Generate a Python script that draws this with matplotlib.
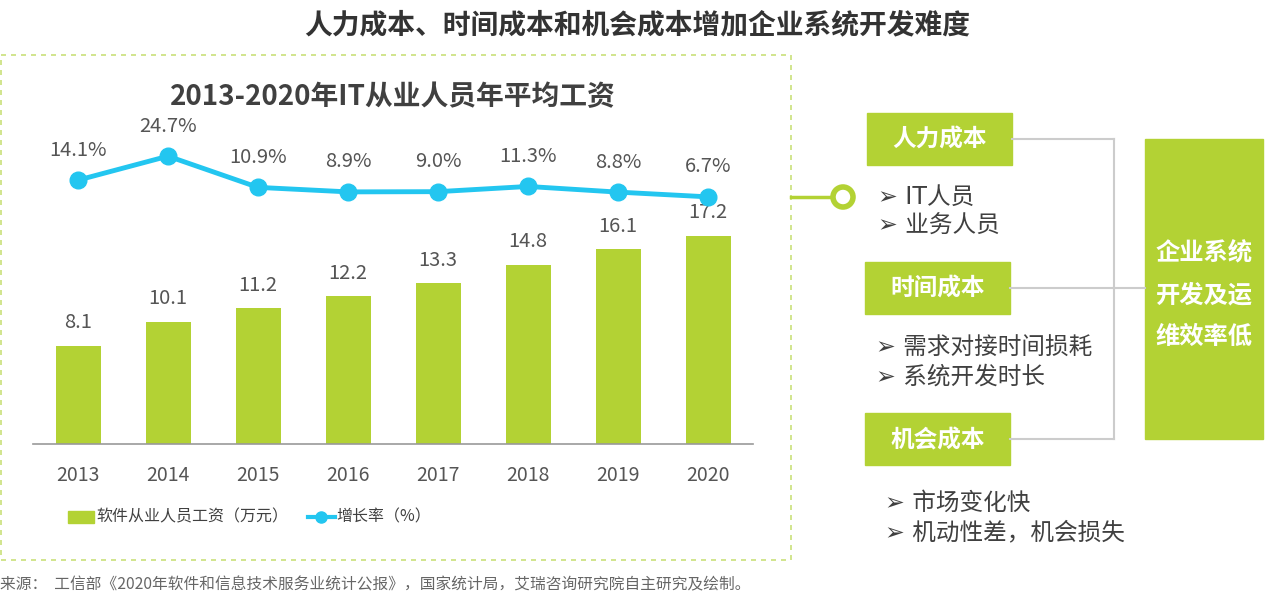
import matplotlib.pyplot as plt
from matplotlib.patches import Rectangle, Circle
from matplotlib.lines import Line2D
import numpy as np

plt.rcParams['font.family'] = ['Noto Sans CJK SC', 'DejaVu Sans']

# data
years = ['2013', '2014', '2015', '2016', '2017', '2018', '2019', '2020']
salary = [8.1, 10.1, 11.2, 12.2, 13.3, 14.8, 16.1, 17.2]
growth = [14.1, 24.7, 10.9, 8.9, 9.0, 11.3, 8.8, 6.7]

costs = ['人力成本', '时间成本', '机会成本']
cost_items = [['IT人员', '业务人员'],
              ['需求对接时间损耗', '系统开发时长'],
              ['市场变化快', '机动性差，机会损失']]
result = '企业系统\n开发及运\n维效率低'

green = '#b3d234'
blue = '#23c6f0'
dark = '#404040'

W, H = 1277, 606
fig = plt.figure(figsize=(W / 100, H / 100), dpi=100)


def fx(px):
    return px / W


def fy(py):
    return 1 - py / H


# overlay axes in pixel coords for the decorations
deco = fig.add_axes([0, 0, 1, 1])
deco.set_xlim(0, W)
deco.set_ylim(H, 0)
deco.axis('off')

# main chart
ax = fig.add_axes([fx(33), fy(444), fx(753) - fx(33), fy(100) - fy(444)])
x = np.arange(len(years))
ax.bar(x, salary, width=0.5, color=green, zorder=2)
ax.set_xlim(-0.5, len(years) - 0.5)
ax.set_ylim(0, 344 / 12.1)
for s in ['top', 'right', 'left']:
    ax.spines[s].set_visible(False)
ax.spines['bottom'].set_color('#999999')
ax.spines['bottom'].set_linewidth(1.2)
ax.set_yticks([])
ax.set_xticks(x)
ax.set_xticklabels(years, fontsize=14, color='#555555')
ax.tick_params(axis='x', length=0, pad=15)
for xi, v in zip(x, salary):
    ax.annotate(f'{v}', (xi, v), xytext=(0, 9), textcoords='offset points',
                ha='center', va='bottom', fontsize=14.5, color='#555555')

ax2 = ax.twinx()
ax2.set_ylim(-232 / 2.26, 112 / 2.26)
ax2.plot(x, growth, color=blue, lw=3.5, marker='o', ms=12, zorder=3)
ax2.axis('off')
for xi, v in zip(x, growth):
    ax2.annotate(f'{v}%', (xi, v), xytext=(0, 14), textcoords='offset points',
                 ha='center', va='bottom', fontsize=14.5, color='#555555')

# chart title and main title
fig.text(fx(393), fy(97), '2013-2020年IT从业人员年平均工资', ha='center', va='center',
         fontsize=20, fontweight='bold', color=dark)
fig.text(fx(637), fy(25), '人力成本、时间成本和机会成本增加企业系统开发难度', ha='center',
         va='center', fontsize=20, fontweight='bold', color='#333333')

# dashed frame
deco.add_patch(Rectangle((1, 55), 790, 505, fill=False, ec='#c9e07a', lw=1.2,
                         ls=(0, (3, 3))))

# legend
deco.add_patch(Rectangle((68, 511), 26, 12, color=green))
deco.text(96, 517, '软件从业人员工资（万元）', va='center', fontsize=11.5, color=dark)
deco.add_line(Line2D([308, 335], [517, 517], color=blue, lw=3))
deco.plot(321, 517, 'o', color=blue, ms=8)
deco.text(336, 517, '增长率（%）', va='center', fontsize=11.5, color=dark)

# source
fig.text(0.0, fy(585), '来源：  工信部《2020年软件和信息技术服务业统计公报》，国家统计局，艾瑞咨询研究院自主研究及绘制。',
         ha='left', va='center', fontsize=11.3, color='#666666')

# right panel
deco.add_line(Line2D([791, 832], [197, 197], color=green, lw=2.5))
deco.add_patch(Circle((843, 197), 10, fc='white', ec=green, lw=4))

box_x = [867, 865, 865]
box_y = [113, 262, 413]
item_x = [878, 876, 885]
item_y = [197, 348, 503]
for name, items, bx, by, ix, iy in zip(costs, cost_items, box_x, box_y, item_x, item_y):
    deco.add_patch(Rectangle((bx, by), 145, 52, color=green))
    deco.text(bx + 73, by + 27, name, ha='center', va='center', fontsize=17,
              fontweight='bold', color='white')
    deco.add_line(Line2D([bx + 145, 1114], [by + 26, by + 26], color='#cccccc', lw=1.5))
    for k, it in enumerate(items):
        deco.text(ix, iy + k * 29, '➢ ' + it, ha='left', va='center', fontsize=17,
                  color=dark, family=['DejaVu Sans', 'Noto Sans CJK SC'])

deco.add_line(Line2D([1114, 1114], [139, 439], color='#cccccc', lw=1.5))
deco.add_line(Line2D([1114, 1145], [288, 288], color='#cccccc', lw=1.5))
deco.add_patch(Rectangle((1145, 139), 118, 300, color=green))
deco.text(1204, 295, result, ha='center', va='center', fontsize=17.5, fontweight='bold',
          color='white', linespacing=1.95)

fig.savefig('out.png', dpi=100)
